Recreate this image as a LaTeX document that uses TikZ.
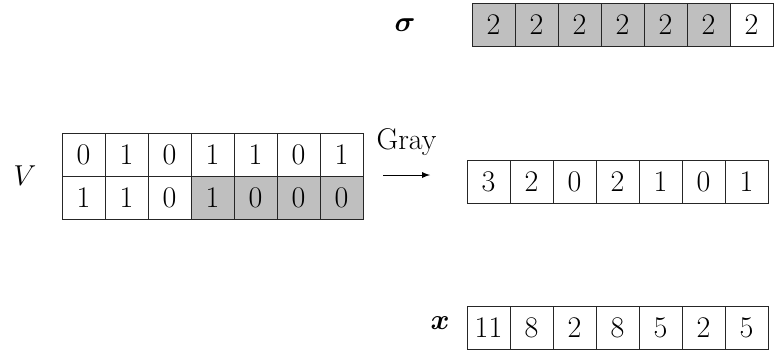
\documentclass[tikz,border=0pt]{standalone}
\usepackage{amsmath}
\usetikzlibrary{positioning}
\begin{document}
\begin{tikzpicture}[x=0.5pt,y=-0.5pt]
        \tikzstyle{every node}=[font=\fontsize{15}{18}\selectfont]
        \tikzstyle{cell}=[draw=black!85,line width=0.5pt,minimum width=21.5pt,minimum height=21.5pt,inner sep=0pt]
        \useasboundingbox (0,0) rectangle (782,350);
        % permutation
        \node (sigma) at (405,25) {$\boldsymbol{\sigma}$};
        \foreach \v/\f [count=\i from 0] in {2/black!25,2/black!25,2/black!25,2/black!25,2/black!25,2/black!25,2/white}
            \node[cell,fill=\f] (s\i) at (493.5+43*\i,25) {\v};
        % two rows of V
        \node (V) at (25,176) {$V$};
        \foreach \v [count=\i from 0] in {0,1,0,1,1,0,1}
            \node[cell] (vt\i) at (83.5+43*\i,154.5) {\v};
        \foreach \v/\f [count=\i from 0] in {1/white,1/white,0/white,1/black!25,0/black!25,0/black!25,0/black!25}
            \node[cell,fill=\f] (vb\i) at (83.5+43*\i,197.5) {\v};
        % Gray step
        \coordinate (g1) at (383,175);
        \coordinate (g2) at (430,175);
        \draw[->,>=latex,line width=0.4pt] (g1) -- (g2) node[midway,above=6pt] (gray) {Gray};
        \foreach \v [count=\i from 0] in {3,2,0,2,1,0,1}
            \node[cell] (r\i) at (488.5+43*\i,181.5) {\v};
        % result x
        \node (x) at (440,323) {$\boldsymbol{x}$};
        \foreach \v [count=\i from 0] in {11,8,2,8,5,2,5}
            \node[cell] (x\i) at (488.5+43*\i,327.5) {\v};
    \end{tikzpicture}
\end{document}
